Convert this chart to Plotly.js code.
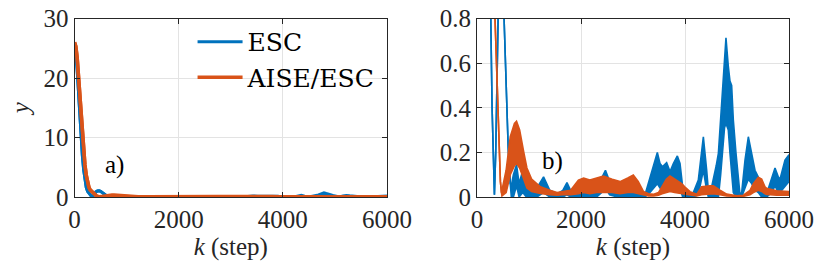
<!DOCTYPE html>
<html>
<head>
<meta charset="utf-8">
<script src="https://cdn.plot.ly/plotly-3.0.1.min.js"></script>
<style>html,body{margin:0;padding:0;background:#fff;}#chart{width:830px;height:271px;}</style>
</head>
<body>
<div id="chart"></div>
<script>
// ESC: step index, lower and upper envelope of the (fast-oscillating) output y
const kEsc = [0,25,50,75,100,125,150,175,200,225,250,265,290,315,335,360,385,410,440,470,500,530,560,600,640,660,
  700,760,810,880,950,1050,1150,1280,1400,1550,1650,1730,1800,1900,2000,2150,2300,2400,2470,2550,2700,2850,3000,3150,
  3231,3327,3423,3468,3519,3570,3647,3712,3776,3853,3904,3955,4032,4160,4256,4320,4353,4417,4449,4480,
  4545,4600,4642,4686,4724,4760,4788,4833,4865,4897,4929,4981,5026,5058,
  5090,5154,5218,5282,5346,5410,5474,5570,5667,5731,5795,5827,5923,5987,6000];
const escLo = [25.8,24.5,21.5,17.5,13.5,10,7,4.6,2.8,1.6,0.95,0.8,0.4,0.12,0.01,0.2,0.55,0.85,1.02,1.05,0.95,0.75,0.5,0.22,0.06,0.0,
  0.0,0.05,0.0,0.02,0.0,0.0,0.0,0.02,0.0,0.0,0.0,0.01,0.0,0.0,0.0,0.0,0.0,0.02,0.04,0.01,0.0,0.0,0.0,0.0,
  0.0,0.02,0.05,0.06,0.04,0.03,0.05,0.03,0.04,0.06,0.04,0.0,0.0,0.0,0.01,0.08,0.12,0.03,0.0,0.0,
  0.0,0.0,0.0,0.1,0.2,0.31,0.33,0.3,0.196,0.1,0.02,0.0,0.0,0.0,
  0.0,0.04,0.08,0.06,0.03,0.02,0.0,0.0,0.02,0.05,0.02,0.02,0.05,0.07,0.07];
const escHi = [25.8,24.5,21.5,17.5,13.5,10,7,4.6,2.8,1.6,0.95,0.8,0.4,0.12,0.01,0.2,0.55,0.85,1.02,1.05,0.95,0.75,0.5,0.22,0.06,0.05,
  0.1,0.145,0.06,0.12,0.05,0.03,0.04,0.09,0.03,0.015,0.03,0.065,0.03,0.02,0.03,0.04,0.04,0.09,0.12,0.07,0.03,0.02,0.02,0.02,
  0.01,0.091,0.166,0.2,0.15,0.136,0.154,0.114,0.15,0.184,0.15,0.046,0.01,0.02,0.076,0.22,0.27,0.12,0.03,0.01,
  0.076,0.14,0.196,0.346,0.5,0.62,0.713,0.586,0.52,0.5,0.346,0.196,0.076,0.01,
  0.02,0.166,0.27,0.196,0.12,0.09,0.046,0.015,0.09,0.13,0.09,0.08,0.166,0.19,0.19];

// AISE/ESC
const kAise = [0,25,50,75,100,125,150,175,200,225,250,275,300,325,350,375,400,425,450,470,
  480,560,640,720,760,820,900,960,1050,1220,1400,1540,1650,1800,1950,2050,2170,2300,2430,2600,2750,2900,3006,3100,
  3200,3300,3400,3490,3560,3640,3712,3800,3936,4000,4096,4225,4320,4480,4545,4673,4801,4994,5122,5250,5314,5410,5474,5538,5570,5763,5987,6000];
const aiseLo = [26,25.3,23.5,20.5,17,13.5,10.3,7.6,5.4,3.7,2.5,1.7,1.2,0.95,0.78,0.55,0.35,0.18,0.07,0.02,
  0.005,0.02,0.1,0.14,0.15,0.13,0.08,0.04,0.025,0.016,0.01,0.008,0.01,0.01,0.015,0.02,0.015,0.02,0.02,0.02,0.015,0.02,0.02,0.015,
  0.01,0.005,0.005,0.008,0.015,0.02,0.025,0.02,0.015,0.012,0.008,0.005,0.01,0.015,0.015,0.01,0.005,0.003,0.003,0.01,0.02,0.03,0.025,0.015,0.012,0.008,0.008,0.008];
const aiseHi = [26,25.3,23.5,20.5,17,13.5,10.3,7.6,5.4,3.7,2.5,1.7,1.2,0.95,0.78,0.55,0.35,0.18,0.07,0.02,
  0.03,0.12,0.27,0.33,0.34,0.3,0.2,0.13,0.08,0.046,0.03,0.02,0.025,0.03,0.076,0.085,0.076,0.085,0.094,0.08,0.069,0.085,0.099,0.07,
  0.025,0.015,0.012,0.02,0.05,0.08,0.094,0.08,0.06,0.045,0.024,0.012,0.046,0.05,0.05,0.031,0.013,0.006,0.008,0.03,0.06,0.088,0.08,0.046,0.039,0.028,0.024,0.024];

const seriesNames = ['ESC', 'AISE/ESC'];
const xTicks = [0, 2000, 4000, 6000];
const yTicksA = [0, 10, 20, 30];
const yTicksB = [0, 0.2, 0.4, 0.6, 0.8];

const BLUE = '#0072BD', ORANGE = '#D95319';
const F_TICK = 'Liberation Serif';
const F_LEG = 'DejaVu Serif';
const F_ANN = 'serif';
const F_TITLE = 'Times New Roman';
const TXT = '#262626';

function band(k, lo, hi, color, xa, ya, w, name, legend) {
  return [
    {x: k, y: lo, type: 'scatter', mode: 'lines', xaxis: xa, yaxis: ya,
     line: {color: color, width: w}, name: name, showlegend: legend, hoverinfo: 'skip'},
    {x: k, y: hi, type: 'scatter', mode: 'lines', xaxis: xa, yaxis: ya, fill: 'tonexty',
     fillcolor: color, line: {color: color, width: w}, name: name, showlegend: false, hoverinfo: 'skip'}
  ];
}

const data = [].concat(
  band(kEsc, escLo, escHi, BLUE, 'x', 'y', 3, seriesNames[0], true),
  band(kAise, aiseLo, aiseHi, ORANGE, 'x', 'y', 3.5, seriesNames[1], true),
  band(kEsc, escLo, escHi, BLUE, 'x2', 'y2', 1.6, seriesNames[0], false),
  band(kAise, aiseLo, aiseHi, ORANGE, 'x2', 'y2', 1.6, seriesNames[1], false)
);

const axCommon = {
  showline: true, mirror: 'ticks', linecolor: '#262626', linewidth: 1,
  ticks: 'inside', ticklen: 5, tickwidth: 1, tickcolor: '#262626',
  showgrid: true, gridcolor: '#e3e3e3', gridwidth: 1, zeroline: false,
  tickfont: {family: F_TICK, size: 25, color: TXT}
};
const xTitle = {text: '<i>k</i> (step)', font: {family: F_TITLE, size: 25, color: TXT}, standoff: 3};

const layout = {
  width: 830, height: 271,
  margin: {l: 0, r: 0, t: 0, b: 0},
  paper_bgcolor: '#fff', plot_bgcolor: '#fff',
  font: {family: F_TICK, size: 25, color: TXT},
  xaxis: Object.assign({}, axCommon, {domain: [0.0898, 0.4663], range: [0, 6000], tickvals: xTicks, title: xTitle, anchor: 'y'}),
  yaxis: Object.assign({}, axCommon, {domain: [0.273, 0.9317], range: [0, 30], tickvals: yTicksA, anchor: 'x',
    title: {text: '<i>y</i>', font: {family: F_TITLE, size: 25, color: TXT}, standoff: 6}}),
  xaxis2: Object.assign({}, axCommon, {domain: [0.5747, 0.9506], range: [0, 6000], tickvals: xTicks, title: xTitle, anchor: 'y2'}),
  yaxis2: Object.assign({}, axCommon, {domain: [0.273, 0.9317], range: [0, 0.8], tickvals: yTicksB, ticktext: ['0','0.2','0.4','0.6','0.8'], anchor: 'x2'}),
  showlegend: true,
  legend: {x: 0.232, y: 0.93, xanchor: 'left', yanchor: 'top', bgcolor: 'rgba(0,0,0,0)', borderwidth: 0,
    traceorder: 'normal', font: {family: F_LEG, size: 25, color: '#000'}, itemwidth: 45, tracegroupgap: 0},
  annotations: [
    {xref: 'x', yref: 'y', x: 550, y: 5.4, text: 'a)', showarrow: false, xanchor: 'left', yanchor: 'middle',
     font: {family: F_ANN, size: 25, color: '#000'}},
    {xref: 'x2', yref: 'y2', x: 1211, y: 0.162, text: 'b)', showarrow: false, xanchor: 'left', yanchor: 'middle',
     font: {family: F_ANN, size: 25, color: '#000'}}
  ]
};

Plotly.newPlot('chart', data, layout, {staticPlot: true, displayModeBar: false});
</script>
</body>
</html>
